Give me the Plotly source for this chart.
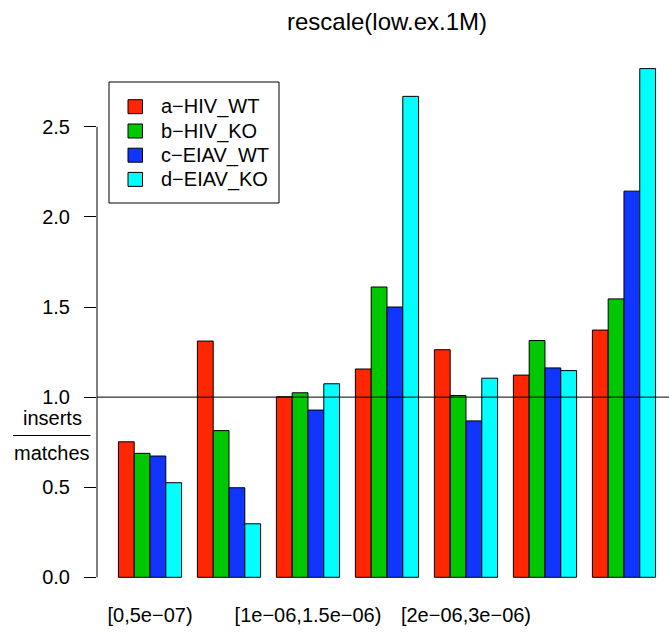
import plotly.graph_objects as go

# Bins of the low-expression 1M set; only every other bin carries a printed label
groups = [0, 1, 2, 3, 4, 5, 6]
label_groups = [0, 2, 4]
label_text = ["[0,5e\u221207)", "[1e\u221206,1.5e\u221206)", "[2e\u221206,3e\u221206)"]

series_names = ["a\u2212HIV_WT", "b\u2212HIV_KO", "c\u2212EIAV_WT", "d\u2212EIAV_KO"]
series_colors = ["#FF2600", "#00C800", "#1035FF", "#00FFFF"]

hiv_wt = [0.752, 1.311, 1.002, 1.156, 1.263, 1.122, 1.372]
hiv_ko = [0.688, 0.814, 1.024, 1.611, 1.009, 1.314, 1.545]
eiav_wt = [0.673, 0.497, 0.928, 1.500, 0.868, 1.162, 2.143]
eiav_ko = [0.525, 0.297, 1.074, 2.669, 1.105, 1.147, 2.823]
series_values = [hiv_wt, hiv_ko, eiav_wt, eiav_ko]

y_ticks = [0.0, 0.5, 1.0, 1.5, 2.0, 2.5]
reference_level = 1.0

W, H = 669, 633
L, R, T, B = 97, 0, 47, 36
PW, PH = W - L - R, H - T - B
FONT = "Liberation Sans, Arial, Helvetica, sans-serif"


def px(x):
    return (x - L) / PW


def py(y):
    return (H - B - y) / PH


fig = go.Figure()
for name, color, vals in zip(series_names, series_colors, series_values):
    fig.add_trace(go.Bar(
        x=groups, y=vals, name=name,
        marker=dict(color=color, line=dict(color="black", width=1)),
        showlegend=False,
    ))

shapes = [
    # y axis line spanning the first to the last tick
    dict(type="line", xref="paper", yref="y", x0=0, x1=0,
         y0=y_ticks[0], y1=y_ticks[-1], line=dict(color="black", width=1)),
    # reference line at ratio 1
    dict(type="line", xref="paper", yref="y", x0=0, x1=1,
         y0=reference_level, y1=reference_level, line=dict(color="black", width=1)),
    # fraction bar of the axis label
    dict(type="line", xref="paper", yref="paper", x0=px(13), x1=px(90.5),
         y0=py(435.5), y1=py(435.5), line=dict(color="black", width=1)),
    # legend frame
    dict(type="rect", xref="paper", yref="paper", x0=px(109), x1=px(279),
         y0=py(203), y1=py(82), line=dict(color="black", width=1),
         fillcolor="white", layer="above"),
]

annotations = [
    dict(text="inserts", xref="paper", yref="paper", x=px(52), y=py(417.5),
         xanchor="center", yanchor="middle", showarrow=False,
         font=dict(size=20, color="black", family=FONT)),
    dict(text="matches", xref="paper", yref="paper", x=px(52), y=py(452.5),
         xanchor="center", yanchor="middle", showarrow=False,
         font=dict(size=20, color="black", family=FONT)),
]

# legend entries: swatch plus label
row_y = [106.7, 131.0, 155.2, 179.4]
for name, color, ry in zip(series_names, series_colors, row_y):
    shapes.append(dict(type="rect", xref="paper", yref="paper",
                       x0=px(128), x1=px(142.5), y0=py(ry + 7), y1=py(ry - 7),
                       fillcolor=color, line=dict(color="black", width=1),
                       layer="above"))
    annotations.append(dict(text=name, xref="paper", yref="paper",
                            x=px(159), y=py(ry), xanchor="left", yanchor="middle",
                            showarrow=False,
                            font=dict(size=20, color="black", family=FONT)))

fig.update_layout(
    width=W, height=H,
    margin=dict(l=L, r=R, t=T, b=B, pad=0),
    paper_bgcolor="white", plot_bgcolor="white",
    barmode="group", bargap=0.2, bargroupgap=0,
    font=dict(family=FONT, size=20, color="black"),
    title=dict(text="rescale(low.ex.1M)", xref="paper", x=px(387),
               xanchor="center", yref="container", y=1 - 22 / H,
               yanchor="middle", font=dict(size=24, family=FONT, color="black")),
    xaxis=dict(range=[-0.671, 6.570], tickmode="array", tickvals=label_groups,
               ticktext=label_text, showline=False, showgrid=False,
               zeroline=False, ticks="", ticklabelstandoff=4,
               tickfont=dict(size=20, family=FONT, color="black")),
    yaxis=dict(range=[-0.1093, 2.9429], tickmode="array", tickvals=y_ticks,
               ticktext=[f"{v:.1f}" for v in y_ticks], showline=False,
               showgrid=False, zeroline=False, ticks="outside", ticklen=12,
               tickwidth=1, tickcolor="black", ticklabelstandoff=10,
               tickfont=dict(size=20, family=FONT, color="black")),
    shapes=shapes, annotations=annotations,
)

fig.write_html("out.html")
